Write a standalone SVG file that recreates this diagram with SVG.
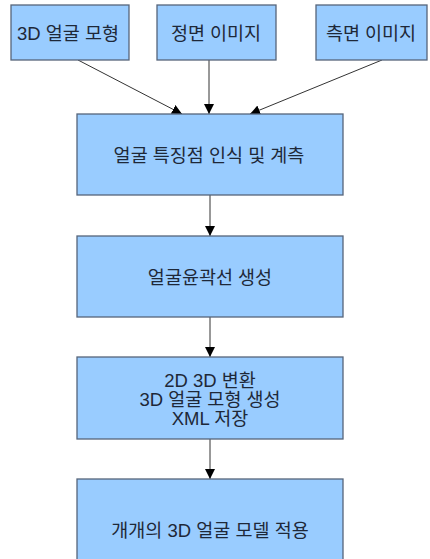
<svg xmlns="http://www.w3.org/2000/svg" width="430" height="559" viewBox="0 0 430 559">
<style>
.box{fill:#99ccff;stroke:#56657a;stroke-width:1.3}
.t{font-family:"Liberation Sans","Noto Sans CJK KR",sans-serif;font-size:18.5px;fill:#1e2838;text-anchor:middle;dominant-baseline:central}
.c{stroke:#333;stroke-width:1;fill:none;marker-end:url(#ah)}
</style>
<defs>
<marker id="ah" markerWidth="10" markerHeight="12" refX="10" refY="5" orient="auto" markerUnits="userSpaceOnUse">
<path d="M0,0 L10,5 L0,10 Z" fill="#000"/>
</marker>
</defs>
<rect width="430" height="559" fill="#fff"/>
<g id="connectors">
<line class="c" x1="78" y1="60" x2="182" y2="114"/>
<line class="c" x1="209" y1="60" x2="209" y2="114"/>
<line class="c" x1="382" y1="60" x2="250" y2="114"/>
<line class="c" x1="210" y1="195" x2="210" y2="236"/>
<line class="c" x1="210" y1="317" x2="210" y2="357"/>
<line class="c" x1="210" y1="439" x2="210" y2="479"/>
</g>
<g id="n1"><rect class="box" x="11" y="5" width="118" height="55"/><text class="t" x="68" y="33">3D 얼굴 모형</text></g>
<g id="n2"><rect class="box" x="157" y="5" width="119" height="55"/><text class="t" x="216" y="33">정면 이미지</text></g>
<g id="n3"><rect class="box" x="316" y="5" width="111" height="55"/><text class="t" x="371" y="33">측면 이미지</text></g>
<g id="n4"><rect class="box" x="77" y="114" width="266" height="81"/><text class="t" x="209" y="155">얼굴 특징점 인식 및 계측</text></g>
<g id="n5"><rect class="box" x="77" y="236" width="266" height="81"/><text class="t" x="210" y="277">얼굴윤곽선 생성</text></g>
<g id="n6"><rect class="box" x="77" y="357" width="266" height="82"/>
<text class="t" x="210" y="380">2D 3D 변환</text>
<text class="t" x="210" y="399">3D 얼굴 모형 생성</text>
<text class="t" x="210" y="418">XML 저장</text></g>
<g id="n7"><rect class="box" x="77" y="479" width="266" height="100"/><text class="t" x="210" y="530">개개의 3D 얼굴 모델 적용</text></g>
</svg>
